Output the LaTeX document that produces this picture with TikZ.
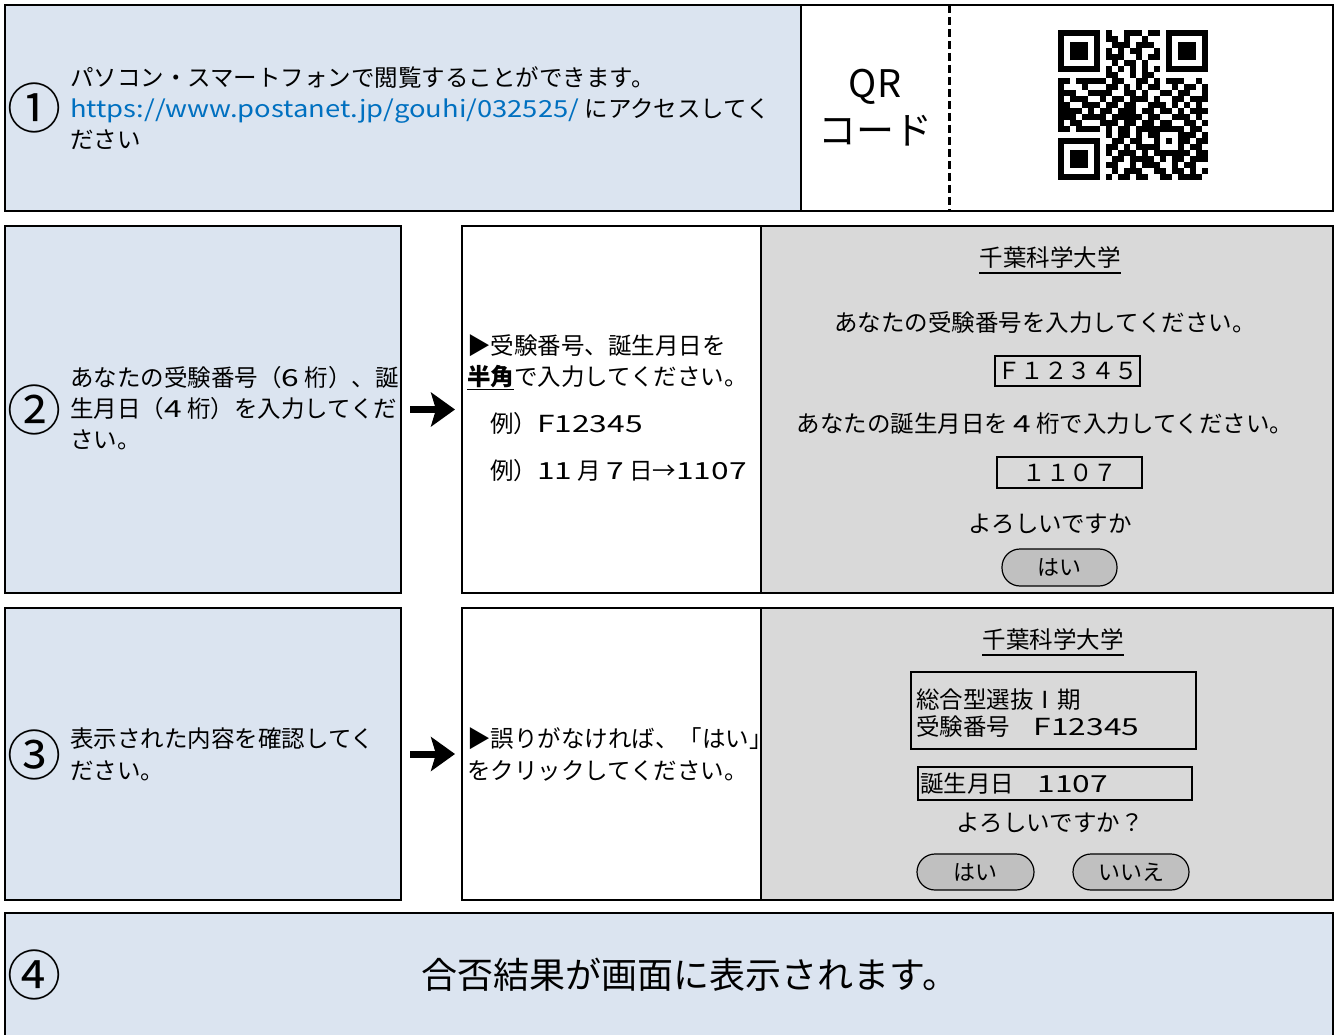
\documentclass[tikz,border=0pt]{standalone}
\usepackage{fontspec}
\usepackage{graphicx}
\setmainfont{Noto Sans CJK JP}
\usetikzlibrary{arrows.meta}
\definecolor{bluebg}{RGB}{219,228,240}
\definecolor{graybg}{RGB}{217,217,217}
\definecolor{btngray}{RGB}{192,192,192}
\definecolor{urlblue}{RGB}{0,112,192}
\newcommand{\wlat}[1]{\scalebox{1.35}[1]{#1}}
\begin{document}
\begin{tikzpicture}[x=1pt,y=-1pt,
  panel/.style={draw=black, line width=2pt, inner sep=0pt, outer sep=0pt},
  inbox/.style={draw=black, line width=2pt, inner sep=0pt, outer sep=0pt},
  txt/.style={inner sep=0pt, align=left, font=\fontsize{23.5}{31}\selectfont},
  ctxt/.style={inner sep=0pt, align=center, font=\fontsize{23.5}{31}\selectfont},
  cnum/.style={inner sep=0pt, font=\fontsize{54}{54}\selectfont},
  btn/.style={draw=black, line width=1.2pt, fill=btngray, rounded corners=18pt, inner sep=0pt, font=\fontsize{22}{22}\selectfont},
  bigarrow/.style={line width=7pt, -{Stealth[length=24pt,width=34pt,inset=5pt]}},
]
\useasboundingbox (0,0) rectangle (1336,1035);

% ---------- Row 1 ----------
\node[panel, fill=bluebg, minimum width=796pt, minimum height=206pt] (r1a) at (403,108) {};
\node[panel, fill=white, minimum width=532pt, minimum height=206pt] (r1b) at (1067,108) {};
\draw[line width=3pt, dash pattern=on 8pt off 4pt] ([xshift=148pt]r1b.north west) -- ([xshift=148pt]r1b.south west);
\node[cnum] (n1) at (35,108) {①};
\node[txt, anchor=west] (t1) at (70,108) {パソコン・スマートフォンで閲覧することができます。\\
\scalebox{1.165}[1]{\textcolor{urlblue}{https://www.postanet.jp/gouhi/032525/}}\ にアクセスしてく\\
ださい};
\node[inner sep=0pt, align=center, font=\fontsize{38}{47}\selectfont] (qrl) at (875,108) {QR\\コード};

% QR code
\foreach \bits [count=\r from 0] in {
{1,1,1,1,1,1,1,0,1,0,0,1,1,1,0,1,1,0,1,1,1,1,1,1,1},
{1,0,0,0,0,0,1,0,1,1,0,1,0,0,1,0,0,0,1,0,0,0,0,0,1},
{1,0,1,1,1,0,1,0,0,1,1,1,0,1,1,1,0,0,1,0,1,1,1,0,1},
{1,0,1,1,1,0,1,0,1,0,1,0,1,1,0,0,1,0,1,0,1,1,1,0,1},
{1,0,1,1,1,0,1,0,1,1,1,0,0,1,0,1,1,0,1,0,1,1,1,0,1},
{1,0,0,0,0,0,1,0,0,1,0,1,1,0,1,0,0,0,1,0,0,0,0,0,1},
{1,1,1,1,1,1,1,0,1,0,1,0,1,0,1,0,1,0,1,1,1,1,1,1,1},
{0,0,0,0,0,0,0,0,1,1,0,0,1,0,1,1,0,0,0,0,0,0,0,0,0},
{1,1,0,1,1,1,1,1,0,1,1,0,0,1,1,0,1,0,1,1,1,0,0,1,0},
{1,0,0,0,1,0,0,0,1,1,0,1,0,1,0,1,1,0,0,1,0,1,1,0,1},
{1,1,1,0,0,1,1,1,1,0,0,1,1,0,1,0,0,1,1,0,1,1,0,0,1},
{1,0,1,1,1,0,0,1,0,1,1,0,1,1,1,0,1,0,0,1,1,0,1,1,1},
{1,1,0,0,1,1,1,0,1,1,0,1,1,0,0,1,1,1,0,1,0,1,0,1,0},
{1,1,1,1,0,1,0,1,1,0,1,1,1,0,1,1,0,1,1,0,1,0,1,1,1},
{1,1,1,0,1,1,1,1,0,1,1,1,1,1,0,1,1,0,0,1,1,1,0,1,0},
{1,0,1,1,0,0,0,1,1,1,0,1,1,0,1,1,0,1,1,0,0,1,1,0,1},
{1,1,0,1,1,1,1,0,1,0,1,1,0,1,1,1,1,1,1,1,1,0,1,1,0},
{0,0,0,0,0,0,0,0,1,0,1,1,0,1,0,1,1,0,0,0,1,1,1,0,1},
{1,1,1,1,1,1,1,0,0,1,1,0,1,1,0,0,1,0,1,0,1,1,0,1,1},
{1,0,0,0,0,0,1,0,1,1,0,1,0,1,1,1,1,0,0,0,1,0,1,1,0},
{1,0,1,1,1,0,1,0,1,0,1,1,1,0,1,0,1,1,1,1,1,1,0,1,1},
{1,0,1,1,1,0,1,0,0,1,1,0,1,1,1,1,0,1,0,1,1,0,1,1,1},
{1,0,1,1,1,0,1,0,1,1,0,0,1,0,1,1,1,0,0,1,0,1,1,0,0},
{1,0,0,0,0,0,1,0,0,1,0,1,1,1,0,0,1,1,0,1,1,0,1,0,1},
{1,1,1,1,1,1,1,0,1,0,1,1,0,1,1,0,0,1,1,0,1,1,1,1,0}}{
  \foreach \b [count=\c from 0] in \bits {
    \ifnum\b=1 \fill[black] (1058+\c*5.98,30+\r*5.98) rectangle ++(6.08,6.08); \fi
  }
}

% ---------- Row 2 ----------
\node[panel, fill=bluebg, minimum width=396pt, minimum height=367pt] (l2) at (203,409.5) {};
\node[panel, fill=white, minimum width=299pt, minimum height=367pt] (m2) at (611.5,409.5) {};
\node[panel, fill=graybg, minimum width=572pt, minimum height=367pt] (s2) at (1047,409.5) {};
\draw[bigarrow] ([xshift=9pt]l2.east) -- ([xshift=-7pt]m2.west);
\node[cnum] (n2) at (35,410) {②};
\node[txt, anchor=west] (t2) at (70,408) {あなたの受験番号（\wlat{6} 桁）、誕\\
生月日（\wlat{4} 桁）を入力してくだ\\
さい。};
\node[txt, anchor=west] (m2a) at (467,362) {▶受験番号、誕生月日を\\
\underline{\textbf{半角}}で入力してください。};
\node[txt, anchor=west] (m2b) at (490,424) {例）\wlat{F12345}};
\node[txt, anchor=west] (m2c) at (490,471) {例）\wlat{11} 月 \wlat{7} 日→\wlat{1107}};

\node[ctxt] (s2t) at (1050,258) {千葉科学大学};
\draw[line width=2pt] ([yshift=-4pt]s2t.south west) -- ([yshift=-4pt]s2t.south east);
\node[ctxt] (s2a) at (1045,323) {あなたの受験番号を入力してください。};
\node[inbox, minimum width=145pt, minimum height=30pt, font=\fontsize{23.5}{23.5}\selectfont] (s2id) at (1067.5,371) {Ｆ１２３４５};
\node[ctxt] (s2b) at (1045,424) {あなたの誕生月日を \wlat{4} 桁で入力してください。};
\node[inbox, minimum width=145pt, minimum height=31pt, font=\fontsize{23.5}{23.5}\selectfont] (s2bd) at (1069.5,472.5) {１１０７};
\node[ctxt] (s2c) at (1050,524) {よろしいですか};
\node[btn, minimum width=115pt, minimum height=37pt] (s2yes) at (1059.5,567.5) {はい};

% ---------- Row 3 ----------
\node[panel, fill=bluebg, minimum width=396pt, minimum height=292pt] (l3) at (203,754) {};
\node[panel, fill=white, minimum width=299pt, minimum height=292pt] (m3) at (611.5,754) {};
\node[panel, fill=graybg, minimum width=572pt, minimum height=292pt] (s3) at (1047,754) {};
\draw[bigarrow] ([xshift=9pt]l3.east) -- ([xshift=-7pt]m3.west);
\node[cnum] (n3) at (35,755) {③};
\node[txt, anchor=west, font=\fontsize{23.5}{32}\selectfont] (t3) at (70,754) {表示された内容を確認してく\\
ださい。};
\node[txt, anchor=west, font=\fontsize{23.5}{32}\selectfont] (m3a) at (467,754) {▶誤りがなければ、「はい」\\
をクリックしてください。};

\node[ctxt] (s3t) at (1053,640) {千葉科学大学};
\draw[line width=2pt] ([yshift=-4pt]s3t.south west) -- ([yshift=-4pt]s3t.south east);
\node[inbox, minimum width=285pt, minimum height=77pt] (s3box) at (1053.5,710.5) {};
\node[txt, anchor=west, font=\fontsize{23.5}{27}\selectfont] (s3id) at (916,713.5) {総合型選抜Ⅰ期\\
受験番号　\wlat{F12345}};
\node[inbox, minimum width=274pt, minimum height=33pt] (s3bdbox) at (1055,783.5) {};
\node[txt, anchor=west] (s3bd) at (920,783.5) {誕生月日　\wlat{1107}};
\node[ctxt] (s3c) at (1050,823) {よろしいですか？};
\node[btn, minimum width=117pt, minimum height=36pt] (s3yes) at (975.5,872) {はい};
\node[btn, minimum width=116pt, minimum height=36pt] (s3no) at (1131,872) {いいえ};

% ---------- Row 4 ----------
\node[panel, fill=bluebg, minimum width=1328pt, minimum height=132pt] (r4) at (669,979) {};
\node[cnum] (n4) at (35,975) {④};
\node[inner sep=0pt, font=\fontsize{36}{36}\selectfont] (t4) at (690,975) {合否結果が画面に表示されます。};
\end{tikzpicture}
\end{document}
